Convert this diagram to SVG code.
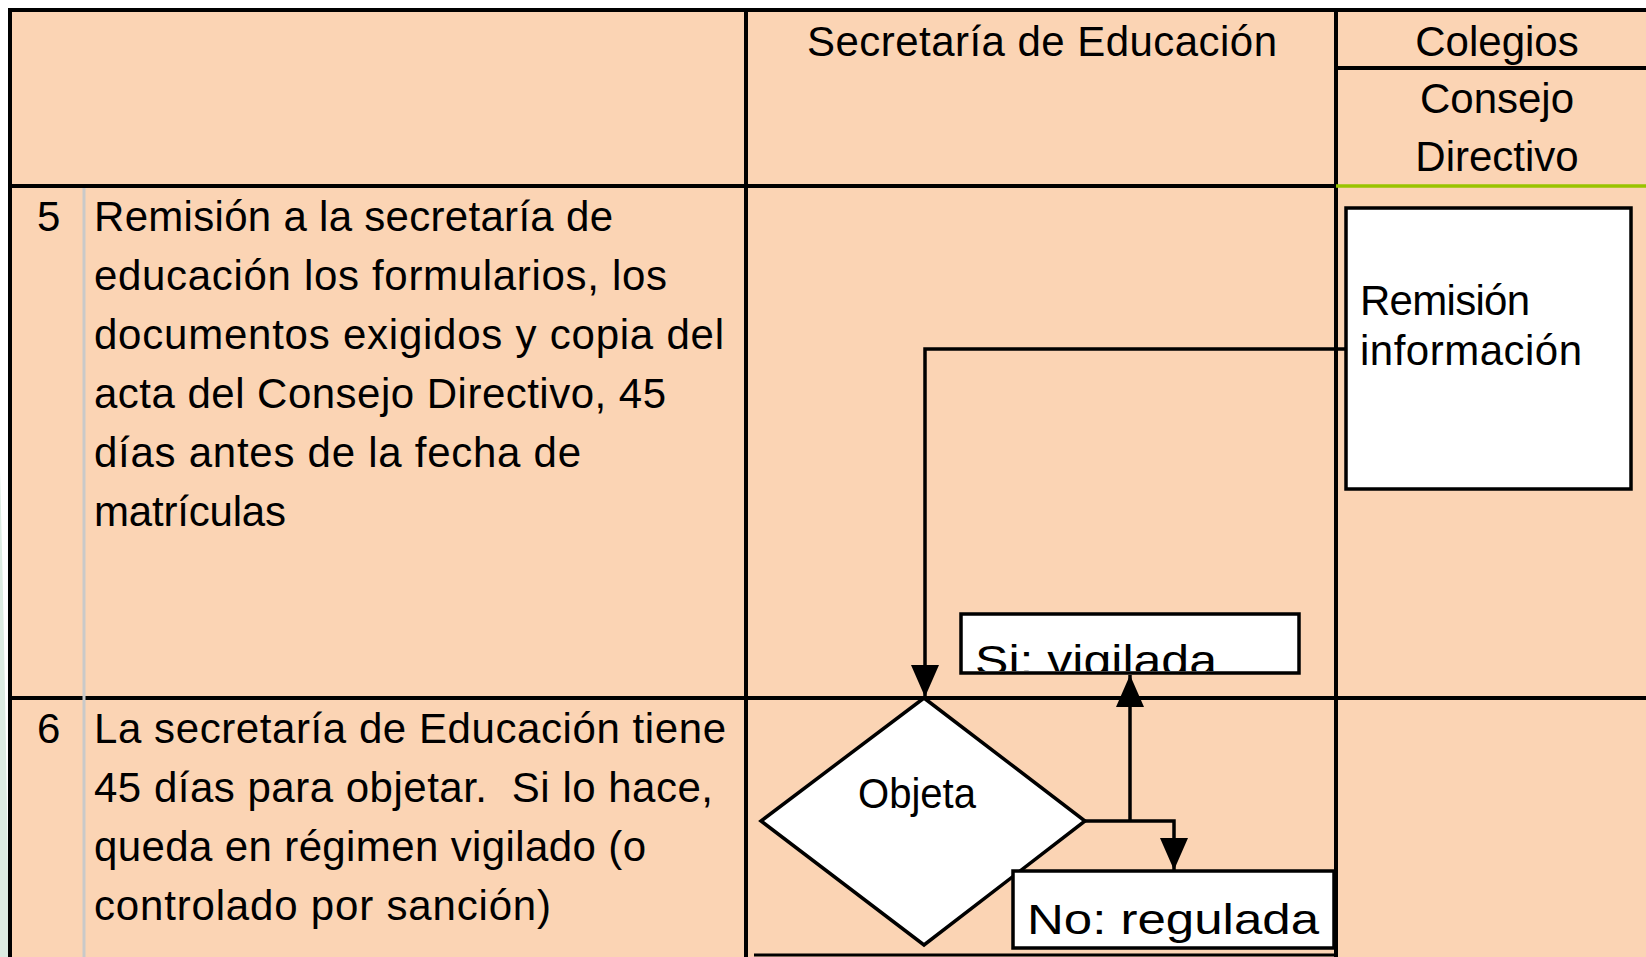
<svg xmlns="http://www.w3.org/2000/svg" width="1646" height="957" viewBox="0 0 1646 957">
  <style>
    .grid { stroke: #000; stroke-width: 4; fill: none; }
    .thin { stroke: #000; stroke-width: 3; fill: none; }
    .t { font-family: "Liberation Sans", Arial, sans-serif; font-size: 42px; fill: #000; }
    .hc { text-anchor: middle; }
    .node { fill: #fff; stroke: #000; stroke-width: 3.5; }
    .conn { stroke: #000; stroke-width: 3.5; fill: none; }
  </style>
  <defs>
    <marker id="arrow" markerUnits="userSpaceOnUse" markerWidth="32" markerHeight="28" viewBox="0 0 32 28" refX="32" refY="14" orient="auto">
      <path d="M0,0 L32,14 L0,28 Z" fill="#000"/>
    </marker>
    <clipPath id="siClip">
      <rect x="962" y="616" width="336" height="55"/>
    </clipPath>
  </defs>

  <rect x="0" y="0" width="1646" height="957" fill="#fff"/>
  <path d="M0,470 Q6,700 9,957 L0,957 Z" fill="#dcebe2"/>
  <rect x="10" y="9" width="1636" height="948" fill="#FBD4B4"/>

  <g id="lanes">
    <line class="grid" x1="8" y1="10" x2="1646" y2="10"/>
    <line class="grid" x1="10" y1="8" x2="10" y2="957"/>
    <line class="grid" x1="746" y1="10" x2="746" y2="957"/>
    <line class="grid" x1="1336" y1="10" x2="1336" y2="957"/>
    <line class="grid" x1="10" y1="186" x2="1336" y2="186"/>
    <line x1="1336" y1="186" x2="1646" y2="186" stroke="#99C400" stroke-width="3.5"/>
    <line class="grid" x1="1336" y1="68" x2="1646" y2="68"/>
    <line class="grid" x1="10" y1="698" x2="1646" y2="698"/>
    <line class="thin" x1="754" y1="955" x2="1336" y2="955"/>
    <line x1="84" y1="188" x2="84" y2="957" stroke="#c9c9c9" stroke-width="3"/>
    <text class="t hc" x="1042" y="56" textLength="470">Secretaría de Educación</text>
    <text class="t hc" x="1497" y="56">Colegios</text>
    <text class="t hc" x="1497" y="113">Consejo</text>
    <text class="t hc" x="1497" y="171">Directivo</text>
  </g>

  <g id="step5">
    <text class="t" x="37" y="231">5</text>
    <text class="t" x="94" y="231" textLength="519">Remisión a la secretaría de</text>
    <text class="t" x="94" y="290" textLength="573">educación los formularios, los</text>
    <text class="t" x="94" y="349" textLength="630">documentos exigidos y copia del</text>
    <text class="t" x="94" y="408" textLength="572">acta del Consejo Directivo, 45</text>
    <text class="t" x="94" y="467" textLength="487">días antes de la fecha de</text>
    <text class="t" x="94" y="526" textLength="192">matrículas</text>
  </g>

  <g id="step6">
    <text class="t" x="37" y="743">6</text>
    <text class="t" x="94" y="743" textLength="632">La secretaría de Educación tiene</text>
    <text class="t" x="94" y="802" textLength="619" xml:space="preserve">45 días para objetar.  Si lo hace,</text>
    <text class="t" x="94" y="861" textLength="552">queda en régimen vigilado (o</text>
    <text class="t" x="94" y="920" textLength="457">controlado por sanción)</text>
  </g>

  <g id="remision">
    <rect class="node" x="1346" y="208" width="285" height="281"/>
    <text class="t" x="1360" y="315" textLength="170">Remisión</text>
    <text class="t" x="1360" y="365" textLength="222">información</text>
  </g>

  <g id="objeta">
    <polygon class="node" points="924,698 1085,821 924,945 761,821"/>
    <text class="t hc" x="917" y="808" textLength="118" lengthAdjust="spacingAndGlyphs">Objeta</text>
  </g>

  <g id="si-vigilada">
    <rect class="node" x="961" y="614" width="338" height="59"/>
    <text class="t" x="975" y="675" font-size="53" textLength="242" lengthAdjust="spacingAndGlyphs" clip-path="url(#siClip)">Si: vigilada</text>
  </g>

  <g id="no-regulada">
    <rect class="node" x="1013" y="871" width="321" height="77"/>
    <text class="t" x="1027" y="934" font-size="58" textLength="292" lengthAdjust="spacingAndGlyphs">No: regulada</text>
  </g>

  <g id="connectors">
    <path class="conn" d="M1346,349 L925,349 L925,697" marker-end="url(#arrow)"/>
    <path class="conn" d="M1085,821 L1174,821 L1174,870" marker-end="url(#arrow)"/>
    <path class="conn" d="M1130,821 L1130,675" marker-end="url(#arrow)"/>
  </g>
</svg>
